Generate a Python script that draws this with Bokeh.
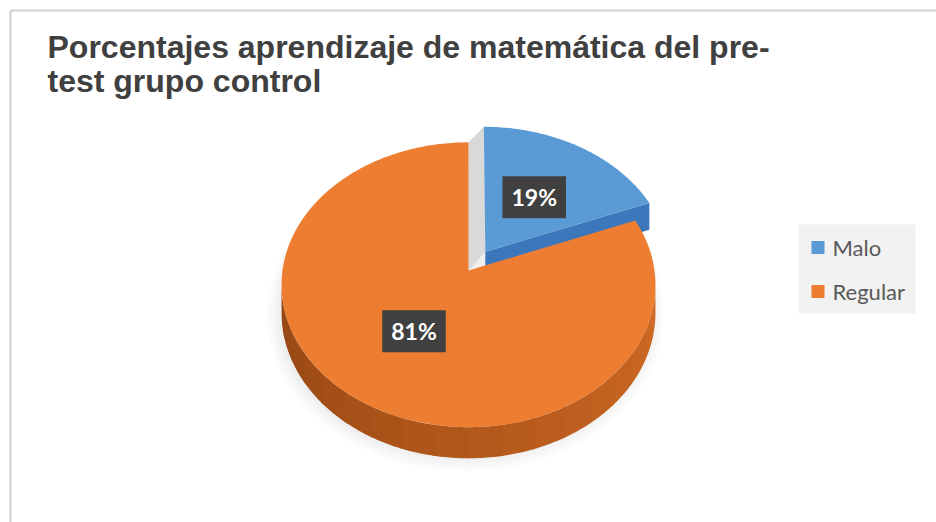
import numpy as np
from bokeh.plotting import figure
from bokeh.models import Range1d, ColumnDataSource
from bokeh.core.properties import value
from bokeh.embed import file_html
from bokeh.resources import INLINE

# ---- data ----
categories = ["Malo", "Regular"]
percentages = [19, 81]
slice_colors = ["#5B9BD5", "#ED7D31"]
side_dark = ["#3C77BC", "#A9531A"]
title_lines = ["Porcentajes aprendizaje de matemática del pre-", "test grupo control"]

W, H = 936, 522
p = figure(width=W, height=H, output_backend="svg", toolbar_location=None,
           x_range=Range1d(0, W), y_range=Range1d(H, 0),
           x_axis_type=None, y_axis_type=None, min_border=0)
p.outline_line_color = None
p.grid.visible = False
p.background_fill_color = "white"
p.border_fill_color = "white"

# chart border (top and left visible)
p.segment(x0=[10, 10], y0=[10, 10], x1=[W, 10], y1=[10, H],
          line_color="#D0D0D0", line_width=2)

# title
p.text(x=[47, 47], y=[46, 80], text=title_lines,
       text_font=value("Liberation Sans"), text_font_style="bold",
       text_font_size="32px", text_color="#404040",
       text_baseline="alphabetic", text_align="left")

# ---- 3D pie geometry (simple perspective projection) ----
cx, cy = 468.0, 270.0
R, B = 186.0, 141.0
persp = 0.10
D = 28.0
explode = 0.163

def proj(u, v, dz=0.0):
    s = 1.0 / (1.0 + persp * np.asarray(v))
    return cx + R * np.asarray(u) * s, cy - B * np.asarray(v) * s + dz * s

fr = np.array(percentages, dtype=float) / sum(percentages)
spans = fr * 360.0
starts = 90.0 - np.concatenate([[0.0], np.cumsum(spans)[:-1]])
ends = starts - spans

offs = []
for i in range(len(percentages)):
    mid = np.radians((starts[i] + ends[i]) / 2.0)
    e = explode if i == 0 else 0.0
    offs.append((e * np.cos(mid), e * np.sin(mid)))

def arc(i, t0, t1, n=200):
    t = np.radians(np.linspace(t0, t1, n))
    return offs[i][0] + np.cos(t), offs[i][1] + np.sin(t)

# soft shadow (below and around the lower part of the pie)
for k in range(4):
    p.ellipse(x=[cx - 3], y=[cy + 44], width=[2 * R + 4 + 7 * k],
              height=[2 * B + 10 + 7 * k], fill_color="#000000",
              fill_alpha=0.016, line_color=None)

# gray gap between slices
ou, ov = offs[1]
bu, bv = offs[0]
gx, gy = proj([ou, ou, bu, bu], [ov, ov + 1, bv + 1, bv])
p.patch(x=gx, y=gy, fill_color="#D9D9D9", line_color=None)

# blue slice: front-facing radial face, then top
tr = np.radians(ends[0])
fu = [bu, bu + np.cos(tr), bu + np.cos(tr), bu]
fv = [bv, bv + np.sin(tr), bv + np.sin(tr), bv]
fdz = [0, 0, D, D]
fx, fy = proj(fu, fv, np.array(fdz))
p.patch(x=fx, y=fy, fill_color=side_dark[0], line_color=None)
au, av = arc(0, starts[0], ends[0], 80)
bx, by = proj(np.concatenate([[bu], au]), np.concatenate([[bv], av]))
p.patch(x=bx, y=by, fill_color=slice_colors[0], line_color=None)

# orange side wall (front half between silhouette points), shaded
sil = np.degrees(np.arcsin(persp))
seg_edges = np.linspace(-sil, -180.0 + sil, 19)
c_right = np.array([0xCF, 0x6A, 0x24])
c_left = np.array([0x96, 0x47, 0x14])
for j in range(len(seg_edges) - 1):
    a0 = seg_edges[j]
    a1 = max(seg_edges[j + 1] - 0.6, -180.0 + sil)
    uu, vv = arc(1, a0, a1, 10)
    x1, y1 = proj(uu, vv)
    x2, y2 = proj(uu[::-1], vv[::-1], D)
    f = j / (len(seg_edges) - 2)
    c = (c_right * (1 - f) + c_left * f).astype(int)
    p.patch(x=np.concatenate([x1, x2]), y=np.concatenate([y1, y2]),
            fill_color="#%02x%02x%02x" % tuple(c), line_color=None)

# orange top
au, av = arc(1, starts[1], ends[1], 300)
ox, oy = proj(np.concatenate([[ou], au]), np.concatenate([[ov], av]))
p.patch(x=ox, y=oy, fill_color=slice_colors[1], line_color=None)

# data labels
lab_f = 0.5
lu, lv, lt = [], [], []
for i in range(len(percentages)):
    mid = np.radians((starts[i] + ends[i]) / 2.0)
    lu.append(offs[i][0] + lab_f * np.cos(mid))
    lv.append(offs[i][1] + lab_f * np.sin(mid))
    lt.append(f"{percentages[i]}%")
lx, ly = proj(lu, lv)
src = ColumnDataSource(dict(x=list(lx), y=list(ly), t=lt))
p.text(x="x", y="y", text="t", source=src, text_font=value("Lato"),
       text_font_style="bold", text_font_size="23px", text_color="white",
       text_align="center", text_baseline="middle",
       background_fill_color="#404040",
       padding=dict(left=9, right=9, top=7, bottom=7))

# legend (manual)
leg_y = [247, 291]
p.quad(left=[798], right=[915], top=[224], bottom=[313],
       fill_color="#F2F2F2", line_color=None)
p.rect(x=[817.5, 817.5], y=leg_y, width=13, height=13,
       fill_color=slice_colors, line_color=None)
p.text(x=[832, 832], y=leg_y, text=categories, text_font=value("Lato"),
       text_font_size="22px", text_color="#595959",
       text_baseline="middle", text_align="left")

open("out.html", "w").write(file_html(p, INLINE))
